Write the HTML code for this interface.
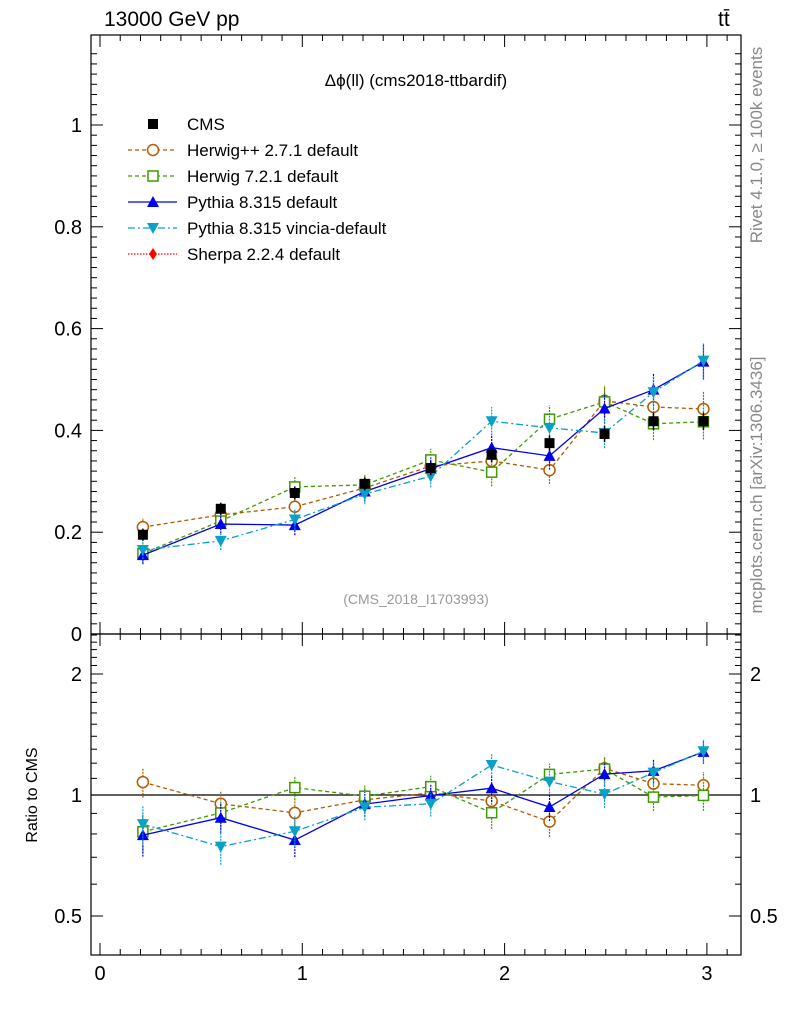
<!DOCTYPE html>
<html><head><meta charset="utf-8"><style>
html,body{margin:0;padding:0;background:#fff}
svg{display:block;font-family:"Liberation Sans",sans-serif}
</style></head><body>
<svg id="c" width="786" height="1024" viewBox="0 0 786 1024"></svg>
<script>
const xs=[0.212,0.597,0.963,1.309,1.635,1.936,2.222,2.494,2.736,2.983];
const cms=[0.195,0.246,0.277,0.295,0.326,0.352,0.375,0.393,0.418,0.418];
const cmsErr=[0.012,0.012,0.013,0.013,0.014,0.015,0.015,0.016,0.017,0.017];
const herwigpp=[0.21,0.234,0.25,0.287,0.33,0.34,0.322,0.458,0.446,0.442];
const herwig7=[0.158,0.222,0.289,0.293,0.342,0.318,0.422,0.456,0.413,0.417];
const pythia=[0.155,0.216,0.214,0.28,0.325,0.366,0.35,0.443,0.48,0.535];
const vincia=[0.165,0.183,0.225,0.275,0.31,0.418,0.405,0.395,0.475,0.537];
const mcErr=[0.018,0.018,0.02,0.02,0.022,0.028,0.027,0.03,0.032,0.035];
const yTicks=[0,0.2,0.4,0.6,0.8,1];
const xTicks=[0,1,2,3];
const rTicks=[0.5,1,2];

const svg=document.getElementById('c');
const NS='http://www.w3.org/2000/svg';
function el(t,a,p){const e=document.createElementNS(NS,t);for(const k in a)e.setAttribute(k,a[k]);(p||svg).appendChild(e);return e;}
const L=91,R=741,T=35,M=634,B=955;
const X=v=>100+v*202.3;
const Y=v=>634-v*509;
const RY=v=>795-121*Math.log2(v);

let f=el('rect',{x:L,y:T,width:R-L,height:M-T,fill:'none',stroke:'#000','stroke-width':1.2});

f=el('rect',{x:L,y:M,width:R-L,height:B-M,fill:'none',stroke:'#000','stroke-width':1.2});


for(let v=0;v<=3.15;v+=0.1){
  const x=X(v);const maj=Math.abs(v-Math.round(v))<1e-6;const len=maj?12:6;
  [[T,T+len],[M,M-len],[M,M+len],[B,B-len]].forEach(([a,b])=>el('line',{x1:x,x2:x,y1:a,y2:b,stroke:'#000','stroke-width':1}));
}
xTicks.forEach(v=>{const t=el('text',{x:X(v),y:980,'font-size':20,'text-anchor':'middle'});t.textContent=v;
});
for(let i=0;i<=57;i++){const v=i*0.02;const y=Y(v);if(y<T)break;const maj=i%10==0;const len=maj?12:6;
  el('line',{x1:L,x2:L+len,y1:y,y2:y,stroke:'#000'});el('line',{x1:R,x2:R-len,y1:y,y2:y,stroke:'#000'});}
yTicks.forEach(v=>{const t=el('text',{x:82,y:Y(v)+7,'font-size':20,'text-anchor':'end'});t.textContent=v;
});
[0.5,0.6,0.7,0.8,0.9,1,1.1,1.2,1.3,1.4,1.5,1.6,1.7,1.8,1.9,2,2.1,2.2,2.3,2.4,2.5].forEach(v=>{const y=RY(v);if(y<M||y>B)return;
  const maj=rTicks.includes(v);const len=maj?12:6;
  el('line',{x1:L,x2:L+len,y1:y,y2:y,stroke:'#000'});el('line',{x1:R,x2:R-len,y1:y,y2:y,stroke:'#000'});});
rTicks.forEach(v=>{let t=el('text',{x:82,y:RY(v)+7,'font-size':20,'text-anchor':'end'});t.textContent=v;

t=el('text',{x:750,y:RY(v)+7,'font-size':20});t.textContent=v;
});
el('line',{x1:L,x2:R,y1:RY(1),y2:RY(1),stroke:'#000','stroke-width':1.2});

function txt(s,a,name){const t=el('text',a);t.textContent=s;return t;}
txt('13000 GeV pp',{x:104,y:26,'font-size':21},'beam-label');
txt('tt̄',{x:718,y:26,'font-size':21},'process-label');
txt('Δϕ(ll) (cms2018-ttbardif)',{x:416,y:86,'font-size':17,'text-anchor':'middle'},'plot-title');
txt('(CMS_2018_I1703993)',{x:416,y:604,'font-size':14,fill:'#999','text-anchor':'middle'},'analysis-id');
txt('Ratio to CMS',{x:37,y:795,'font-size':16,'text-anchor':'middle',transform:'rotate(-90 37 795)'},'ratio-axis-title');
txt('Rivet 4.1.0, ≥ 100k events',{x:762,y:145,'font-size':17,fill:'#888','text-anchor':'middle',transform:'rotate(-90 762 145)'},'rivet-label');
txt('mcplots.cern.ch [arXiv:1306.3436]',{x:762,y:485,'font-size':17,fill:'#888','text-anchor':'middle',transform:'rotate(-90 762 485)'},'mcplots-label');

function marker(g,type,x,y,col){
  if(type=='sq')el('rect',{x:x-5,y:y-5,width:10,height:10,fill:'#000'},g);
  if(type=='osq')el('rect',{x:x-5,y:y-5,width:10,height:10,fill:'#fff',stroke:col,'stroke-width':1.5},g);
  if(type=='oc')el('circle',{cx:x,cy:y,r:5.5,fill:'#fff',stroke:col,'stroke-width':1.5},g);
  if(type=='tu')el('polygon',{points:`${x},${y-6} ${x-6},${y+5} ${x+6},${y+5}`,fill:col},g);
  if(type=='td')el('polygon',{points:`${x},${y+6} ${x-6},${y-5} ${x+6},${y-5}`,fill:col},g);
  if(type=='dm')el('polygon',{points:`${x},${y-6} ${x-4},${y} ${x},${y+6} ${x+4},${y}`,fill:col},g);
}
const series=[
 {name:'herwigpp',vals:herwigpp,col:'#b35a00',dash:'4,3',m:'oc'},
 {name:'herwig7',vals:herwig7,col:'#3e9a00',dash:'4,3',m:'osq'},
 {name:'pythia',vals:pythia,col:'#0000ee',dash:'',m:'tu'},
 {name:'vincia',vals:vincia,col:'#0aa0c8',dash:'7,3,2,3',m:'td'}];
series.forEach(s=>{
  const gm=el('g',{});
  const gr=el('g',{});
  el('polyline',{points:xs.map((x,i)=>X(x)+','+Y(s.vals[i])).join(' '),fill:'none',stroke:s.col,'stroke-width':1.3,'stroke-dasharray':s.dash},gm);
  el('polyline',{points:xs.map((x,i)=>X(x)+','+RY(s.vals[i]/cms[i])).join(' '),fill:'none',stroke:s.col,'stroke-width':1.3,'stroke-dasharray':s.dash},gr);
  xs.forEach((x,i)=>{const v=s.vals[i],e=mcErr[i];
    el('line',{x1:X(x),x2:X(x),y1:Y(v-e),y2:Y(v+e),stroke:s.col,'stroke-width':1.2,'stroke-dasharray':'2,1'},gm);
    marker(gm,s.m,X(x),Y(v),s.col);
    const r=v/cms[i],re=e/cms[i];
    el('line',{x1:X(x),x2:X(x),y1:RY(r-re),y2:RY(r+re),stroke:s.col,'stroke-width':1.2,'stroke-dasharray':'2,1'},gr);
    marker(gr,s.m,X(x),RY(r),s.col);});
});
let g=el('g',{});
xs.forEach((x,i)=>{el('line',{x1:X(x),x2:X(x),y1:Y(cms[i]-cmsErr[i]),y2:Y(cms[i]+cmsErr[i]),stroke:'#000','stroke-width':1.5},g);marker(g,'sq',X(x),Y(cms[i]));});
const leg=[['CMS','#000','','sq'],['Herwig++ 2.7.1 default','#b35a00','4,3','oc'],['Herwig 7.2.1 default','#3e9a00','4,3','osq'],
['Pythia 8.315 default','#0000ee','','tu'],['Pythia 8.315 vincia-default','#0aa0c8','7,3,2,3','td'],['Sherpa 2.2.4 default','#ff0000','1.5,1.5','dm']];
leg.forEach((l,i)=>{const y=124+i*26;const gl=el('g',{});
  if(i>0)el('line',{x1:128,x2:177,y1:y,y2:y,stroke:l[1],'stroke-width':1.3,'stroke-dasharray':l[2]},gl);
  marker(gl,l[3],153,y,l[1]);
  const t=el('text',{x:187,y:y+6,'font-size':17},gl);t.textContent=l[0];});
</script>
</body></html>
